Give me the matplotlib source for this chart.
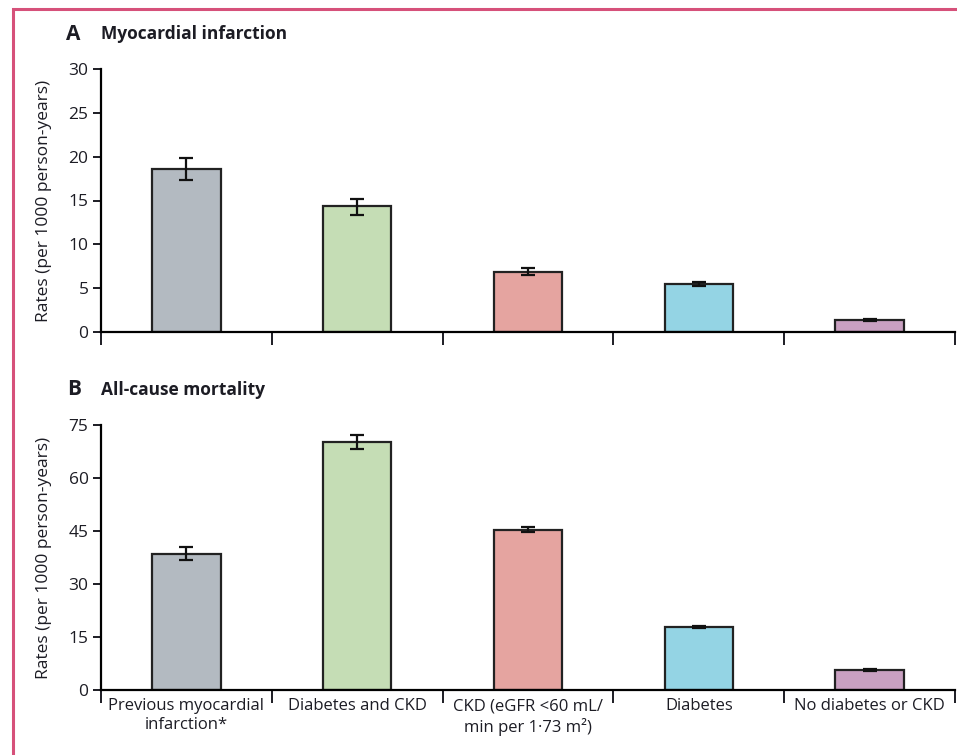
import matplotlib
matplotlib.use("Agg")
import matplotlib.pyplot as plt
import numpy as np
from matplotlib.patches import Rectangle
from matplotlib import font_manager

# groups along the x axis
groups = ["Previous myocardial\ninfarction*", "Diabetes and CKD",
          "CKD (eGFR <60 mL/\nmin per 1·73 m²)", "Diabetes", "No diabetes or CKD"]
bar_colors = ["#b3bac1", "#c5ddb5", "#e5a4a0", "#94d4e4", "#c9a0c1"]

# panel A: myocardial infarction rates with 95% CI
mi_rate = [18.6, 14.4, 6.9, 5.5, 1.4]
mi_low = [17.3, 13.4, 6.5, 5.3, 1.3]
mi_high = [19.9, 15.2, 7.3, 5.7, 1.5]

# panel B: all-cause mortality rates with 95% CI
death_rate = [38.4, 70.1, 45.3, 17.9, 5.6]
death_low = [36.8, 68.3, 44.6, 17.6, 5.3]
death_high = [40.4, 72.1, 46.2, 18.2, 5.9]

mi_ticks = [0, 5, 10, 15, 20, 25, 30]
death_ticks = [0, 15, 30, 45, 60, 75]

names = {f.name for f in font_manager.fontManager.ttflist}
family = "Liberation Sans Narrow" if "Liberation Sans Narrow" in names else "Open Sans"
plt.rcParams["font.family"] = [family, "DejaVu Sans"]
plt.rcParams["text.color"] = "#1c1c24"
plt.rcParams["axes.labelcolor"] = "#1c1c24"
plt.rcParams["xtick.color"] = "#1c1c24"
plt.rcParams["ytick.color"] = "#1c1c24"

fig = plt.figure(figsize=(9.57, 7.55), dpi=100)

# page frame
fig.patches.append(Rectangle((13 / 957, -0.1), 1.2, 1.1 - 9 / 755,
                             transform=fig.transFigure, fill=False,
                             edgecolor="#d6517a", linewidth=2.2))

ax_a = fig.add_axes([101 / 957, 1 - 332 / 755, 854 / 957, 263 / 755])
ax_b = fig.add_axes([101 / 957, 1 - 690 / 755, 854 / 957, 265 / 755])

x = np.arange(len(groups))


def draw_panel(ax, rate, low, high, ticks, letter, title, show_labels):
    rate = np.array(rate)
    err = [rate - np.array(low), np.array(high) - rate]
    ax.bar(x, rate, width=0.4, color=bar_colors, edgecolor="#222222",
           linewidth=1.6, zorder=2)
    ax.errorbar(x, rate, yerr=err, fmt="none", ecolor="#111111",
                elinewidth=1.6, capsize=4.8, capthick=1.6, zorder=3)
    ax.set_xlim(-0.5, len(groups) - 0.5)
    ax.set_ylim(0, ticks[-1])
    ax.set_yticks(ticks)
    ax.spines["top"].set_visible(False)
    ax.spines["right"].set_visible(False)
    ax.spines["left"].set_linewidth(1.6)
    ax.spines["bottom"].set_linewidth(1.6)
    ax.tick_params(axis="y", length=6, width=1.4, labelsize=12.5, pad=3)
    ax.set_xticks(x)
    ax.set_xticks(np.arange(-0.5, len(groups)), minor=True)
    ax.tick_params(axis="x", which="major", length=0, pad=6, labelsize=12)
    ax.tick_params(axis="x", which="minor", length=9, width=1.4)
    if show_labels:
        ax.set_xticklabels(groups, linespacing=1.25)
    else:
        ax.set_xticklabels([])
    ax.set_ylabel("Rates (per 1000 person-years)", fontsize=12.5, labelpad=12)
    ax.text(-0.032, 1.133, letter, transform=ax.transAxes, fontsize=15,
            fontweight="bold", ha="center", va="center")
    ax.text(0.0, 1.133, title, transform=ax.transAxes, fontsize=12.5,
            fontweight="bold", ha="left", va="center")


draw_panel(ax_a, mi_rate, mi_low, mi_high, mi_ticks, "A",
           "Myocardial infarction", False)
draw_panel(ax_b, death_rate, death_low, death_high, death_ticks, "B",
           "All-cause mortality", True)

fig.savefig("out.png", dpi=100)
